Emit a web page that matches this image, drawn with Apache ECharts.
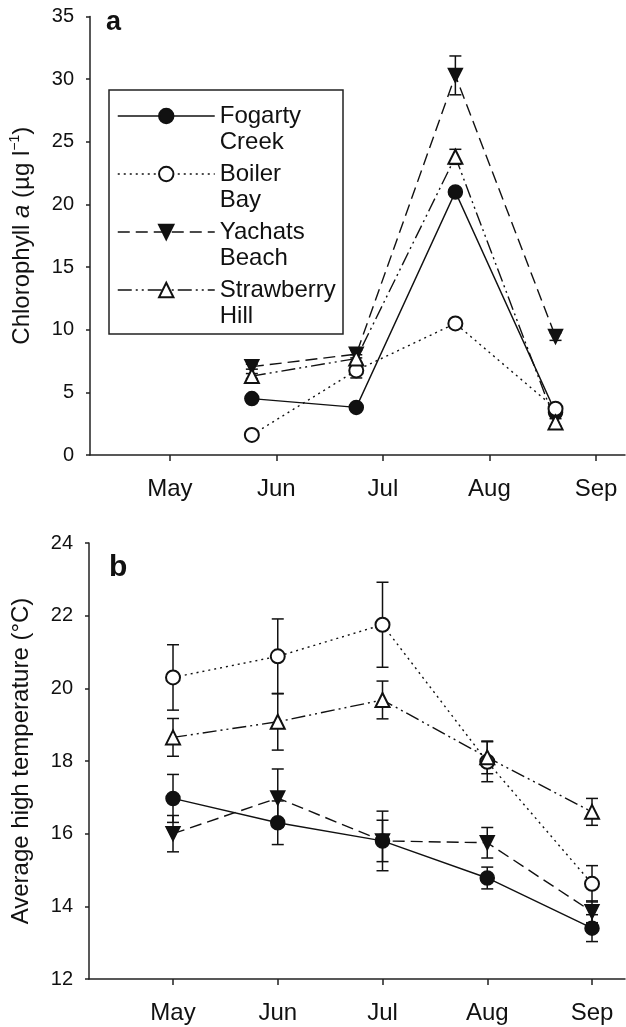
<!DOCTYPE html>
<html>
<head>
<meta charset="utf-8">
<script src="https://cdn.jsdelivr.net/npm/echarts@6/dist/echarts.min.js"></script>
<style>html,body{margin:0;padding:0;background:#fff}#c{width:626px;height:1027px}</style>
</head>
<body>
<div id="c"></div>
<script>
// ---- data ----
const monthLabels = ['May', 'Jun', 'Jul', 'Aug', 'Sep'];
const monthTicks = [0, 1, 2, 3, 4];
const siteNames = ['Fogarty Creek', 'Boiler Bay', 'Yachats Beach', 'Strawberry Hill'];

// panel a: chlorophyll a (sampling dates as month index from May)
const chlX = [0.77, 1.75, 2.68, 3.62];
const fogartyChl = [4.5, 3.8, 21.0, 3.4];
const fogartyChlErr = [0.3, 0.25, 0.3, 0.3];
const boilerChl = [1.6, 6.75, 10.5, 3.7];
const boilerChlErr = [0.2, 0.6, 0.3, 0.3];
const yachatsChl = [7.05, 8.05, 30.3, 9.45];
const yachatsChlErr = [0.2, 0.3, 1.55, 0.3];
const strawberryChl = [6.3, 7.7, 23.8, 2.6];
const strawberryChlErr = [0.2, 0.3, 0.6, 0.3];

// panel b: average high temperature
const tempX = [0, 1, 2, 3, 4];
const fogartyTemp = [16.97, 16.3, 15.8, 14.78, 13.4];
const fogartyTempErr = [0.66, 0.6, 0.82, 0.3, 0.37];
const boilerTemp = [20.3, 20.88, 21.75, 17.98, 14.62];
const boilerTempErr = [0.9, 1.03, 1.17, 0.55, 0.5];
const yachatsTemp = [16.0, 16.98, 15.8, 15.75, 13.85];
const yachatsTempErr = [0.5, 0.8, 0.57, 0.42, 0.3];
const strawberryTemp = [18.65, 19.08, 19.68, 18.1, 16.6];
const strawberryTempErr = [0.52, 0.78, 0.52, 0.45, 0.37];

// ---- styling ----
const FONT = '"Liberation Sans", Arial, sans-serif';
const INK = '#111';
const siteStyles = [
  { symbol: 'circle', rotate: 0, dash: 'solid' },
  { symbol: 'emptyCircle', rotate: 0, dash: [2, 4] },
  { symbol: 'triangle', rotate: 180, dash: [12, 6] },
  { symbol: 'emptyTriangle', rotate: 0, dash: [14, 4, 2, 4, 2, 4] }
];

const chlSets = [[fogartyChl, fogartyChlErr], [boilerChl, boilerChlErr], [yachatsChl, yachatsChlErr], [strawberryChl, strawberryChlErr]];
const tempSets = [[fogartyTemp, fogartyTempErr], [boilerTemp, boilerTempErr], [yachatsTemp, yachatsTempErr], [strawberryTemp, strawberryTempErr]];

function errRender(params, api) {
  const x = api.value(0), y = api.value(1), e = api.value(2);
  const hi = api.coord([x, y + e]);
  const lo = api.coord([x, y - e]);
  const w = 6;
  const st = { stroke: INK, lineWidth: 1.5 };
  return {
    type: 'group',
    children: [
      { type: 'line', shape: { x1: hi[0], y1: hi[1], x2: lo[0], y2: lo[1] }, style: st },
      { type: 'line', shape: { x1: hi[0] - w, y1: hi[1], x2: hi[0] + w, y2: hi[1] }, style: st },
      { type: 'line', shape: { x1: lo[0] - w, y1: lo[1], x2: lo[0] + w, y2: lo[1] }, style: st }
    ]
  };
}

const series = [];
function addPanel(sets, xs, idx) {
  sets.forEach((s, i) => {
    const st = siteStyles[i];
    series.push({
      name: siteNames[i],
      type: 'line',
      xAxisIndex: idx, yAxisIndex: idx,
      data: xs.map((x, k) => [x, s[0][k]]),
      symbol: st.symbol,
      symbolSize: 14,
      symbolRotate: st.rotate,
      showAllSymbol: true,
      z: 3,
      lineStyle: { color: INK, width: 1.4, type: st.dash },
      itemStyle: { color: INK, borderColor: INK, borderWidth: 1.5 },
      emphasis: { disabled: true },
      animation: false
    });
  });
  sets.forEach((s, i) => {
    series.push({
      name: 'err' + idx + '_' + i,
      type: 'custom',
      xAxisIndex: idx, yAxisIndex: idx,
      data: xs.map((x, k) => [x, s[0][k], s[1][k]]),
      encode: { x: 0, y: 1 },
      renderItem: errRender,
      z: 2,
      silent: true,
      animation: false
    });
  });
}
addPanel(chlSets, chlX, 0);
addPanel(tempSets, tempX, 1);

function xAxisCfg(idx, min, max) {
  return {
    type: 'value', gridIndex: idx, min: min, max: max,
    axisLine: { show: true, onZero: false, lineStyle: { color: '#222', width: 1.5 } },
    axisTick: { show: true, customValues: monthTicks, length: 6, lineStyle: { color: '#222', width: 1.5 } },
    axisLabel: { customValues: monthTicks, formatter: v => monthLabels[Math.round(v)] || '', fontSize: 24, fontFamily: FONT, color: INK, margin: 22 },
    splitLine: { show: false }
  };
}
function yAxisCfg(idx, min, max, interval, name) {
  return {
    type: 'value', gridIndex: idx, min: min, max: max, interval: interval,
    name: name, nameLocation: 'middle', nameGap: 54,
    nameTextStyle: {
      fontSize: 24, fontFamily: FONT, color: INK,
      rich: {
        n: { fontSize: 24, fontFamily: FONT, color: INK, lineHeight: 28 },
        i: { fontSize: 24, fontFamily: FONT, fontStyle: 'italic', color: INK, lineHeight: 28 },
        s: { fontSize: 14, fontFamily: FONT, color: INK, verticalAlign: 'top', lineHeight: 28 }
      }
    },
    axisLine: { show: true, onZero: false, lineStyle: { color: '#222', width: 1.5 } },
    axisTick: { show: true, length: 4, lineStyle: { color: '#222', width: 1.5 } },
    axisLabel: { fontSize: 20, fontFamily: FONT, color: INK, margin: 16 },
    splitLine: { show: false }
  };
}

const option = {
  backgroundColor: '#fff',
  animation: false,
  title: [
    { text: 'a', left: 101, top: 4, textStyle: { fontSize: 27, fontWeight: 'bold', fontFamily: FONT, color: INK } },
    { text: 'b', left: 104, top: 548, textStyle: { fontSize: 30, fontWeight: 'bold', fontFamily: FONT, color: INK } }
  ],
  grid: [
    { left: 89, right: 1, top: 16.5, height: 438.5 },
    { left: 89, right: 1, top: 543, height: 436 }
  ],
  xAxis: [xAxisCfg(0, -0.749, 4.272), xAxisCfg(1, -0.802, 4.315)],
  yAxis: [
    yAxisCfg(0, 0, 35, 5, '{n|Chlorophyll }{i|a}{n| (µg l}{s|−1}{n|)}'),
    yAxisCfg(1, 12, 24, 2, '{n|Average high temperature (°C)}')
  ],
  graphic: [
    { type: 'rect', left: 106.5, top: 87.5, shape: { width: 234, height: 244 }, style: { fill: 'none', stroke: '#222', lineWidth: 1.5 }, z: 10, silent: true }
  ],
  legend: {
    data: siteNames,
    orient: 'vertical',
    left: 117, top: 77,
    padding: 0,
    itemWidth: 97, itemHeight: 18, itemGap: -20,
    selectedMode: false,
    formatter: name => ' \n' + name.replace(' ', '\n'),
    lineStyle: { width: 1.5 },
    textStyle: { fontSize: 24, fontFamily: FONT, color: INK, lineHeight: 26 }
  },
  series: series
};

const chart = echarts.init(document.getElementById('c'), null, { renderer: 'canvas' });
chart.setOption(option);
</script>
</body>
</html>
